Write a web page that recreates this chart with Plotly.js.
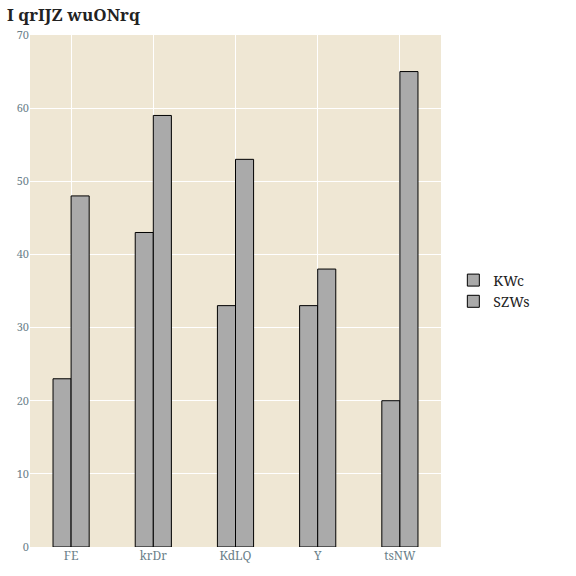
<!DOCTYPE html>
<html>
<head>
<meta charset="utf-8">
<script src="https://cdn.plot.ly/plotly-3.0.1.min.js"></script>
</head>
<body style="margin:0">
<div id="chart" style="width:576px;height:576px"></div>
<script>
var categories = ["FE", "krDr", "KdLQ", "Y", "tsNW"];
var kwcValues = [23, 43, 33, 33, 20];
var szwsValues = [48, 59, 53, 38, 65];

var fontFam = "Noto Serif, DejaVu Serif, serif";
var barStyle = {color: "#aaaaaa", line: {color: "#000000", width: 1}};

var data = [
	{type: "bar", name: "KWc", x: categories, y: kwcValues, marker: barStyle},
	{type: "bar", name: "SZWs", x: categories, y: szwsValues, marker: barStyle}
];

var layout = {
	width: 576, height: 576,
	margin: {l: 30, r: 135, t: 35, b: 29},
	paper_bgcolor: "#ffffff",
	plot_bgcolor: "#efe7d4",
	font: {family: fontFam, color: "#6b7f8a", size: 12},
	title: {text: "<b>I qrIJZ wuONrq</b>", x: 0.012, xanchor: "left", y: 0.985, yanchor: "top",
		font: {family: fontFam, size: 17, color: "#222222"}},
	barmode: "group",
	bargap: 0.56,
	bargroupgap: 0,
	xaxis: {showgrid: true, gridcolor: "#ffffff", tickfont: {family: fontFam, size: 12, color: "#6b7f8a"}},
	yaxis: {range: [0, 70], dtick: 10, gridcolor: "#ffffff", zeroline: false,
		tickfont: {family: fontFam, size: 11, color: "#6b7f8a"}},
	legend: {x: 1.03, y: 0.5, yanchor: "middle", font: {family: fontFam, size: 14, color: "#222222"}}
};

Plotly.newPlot("chart", data, layout, {displayModeBar: false});
</script>
</body>
</html>
